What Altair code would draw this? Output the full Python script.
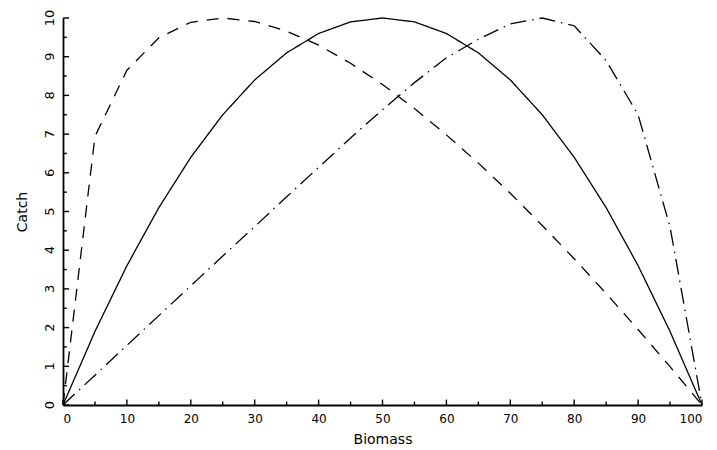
import altair as alt
import pandas as pd

biomass = [0, 5, 10, 15, 20, 25, 30, 35, 40, 45, 50, 55, 60, 65, 70, 75, 80, 85, 90, 95, 100]
catch_solid = [0, 1.9, 3.6, 5.1, 6.4, 7.5, 8.4, 9.1, 9.6, 9.9, 10.0, 9.9, 9.6, 9.1, 8.4, 7.5, 6.4, 5.1, 3.6, 1.9, 0]
catch_dashed = [0, 6.94, 8.65, 9.49, 9.89, 10.0, 9.91, 9.66, 9.30, 8.83, 8.28, 7.66, 6.98, 6.25, 5.47, 4.64, 3.78, 2.88, 1.95, 0.99, 0]
catch_dashdot = [0, 0.77, 1.54, 2.31, 3.08, 3.85, 4.61, 5.38, 6.14, 6.90, 7.63, 8.33, 8.97, 9.45, 9.85, 10.0, 9.8, 8.9, 7.5, 4.6, 0]

series_names = ["solid", "dashed", "dashdot"]

x_major = [0, 10, 20, 30, 40, 50, 60, 70, 80, 90, 100]
x_minor = [5, 15, 25, 35, 45, 55, 65, 75, 85, 95]
y_major = [0, 1, 2, 3, 4, 5, 6, 7, 8, 9, 10]
y_minor = [0.5, 1.5, 2.5, 3.5, 4.5, 5.5, 6.5, 7.5, 8.5, 9.5]
y_labels = ["0", "1", "2", "3", "4", "5", "6", "7", "8", "9", "10"]

rows = []
for name, vals in zip(series_names, [catch_solid, catch_dashed, catch_dashdot]):
    for b, c in zip(biomass, vals):
        rows.append({"Biomass": b, "Catch": c, "series": name})
df = pd.DataFrame(rows)

xscale = alt.Scale(domain=[0, 100], nice=False, zero=False)
yscale = alt.Scale(domain=[0, 10], nice=False, zero=False)

FONT = "DejaVu Sans"

xaxis = alt.Axis(values=x_major, title="Biomass", ticks=False, grid=False,
                 domainColor="black", domainWidth=1.8, labelColor="black",
                 labelFont=FONT, labelFontSize=12, labelPadding=8,
                 titleFont=FONT, titleFontSize=14, titleFontWeight="normal",
                 titleColor="black", titlePadding=8)
yaxis = alt.Axis(values=y_major, title="Catch", ticks=False, grid=False, labels=False,
                 domainColor="black", domainWidth=1.8,
                 titleFont=FONT, titleFontSize=14, titleFontWeight="normal",
                 titleColor="black", titlePadding=34)

lines = alt.Chart(df).mark_line(color="black", strokeWidth=1.3).encode(
    x=alt.X("Biomass:Q", scale=xscale, axis=xaxis),
    y=alt.Y("Catch:Q", scale=yscale, axis=yaxis),
    strokeDash=alt.StrokeDash("series:N",
                              scale=alt.Scale(domain=series_names,
                                              range=[[1, 0], [12, 9], [16, 6, 1.5, 6]]),
                              legend=None),
    detail="series:N",
)

def xticks(vals, length):
    d = pd.DataFrame({"v": vals, "y0": [0.0] * len(vals), "y1": [length] * len(vals)})
    return alt.Chart(d).mark_rule(color="black", strokeWidth=1.4).encode(
        x=alt.X("v:Q", scale=xscale, axis=None),
        y=alt.Y("y0:Q", scale=yscale, axis=None),
        y2="y1:Q")

def yticks(vals, length):
    d = pd.DataFrame({"v": vals, "x0": [0.0] * len(vals), "x1": [length] * len(vals)})
    return alt.Chart(d).mark_rule(color="black", strokeWidth=1.4).encode(
        y=alt.Y("v:Q", scale=yscale, axis=None),
        x=alt.X("x0:Q", scale=xscale, axis=None),
        x2="x1:Q")

ylab_df = pd.DataFrame({"v": y_major, "lab": y_labels, "x0": [0.0] * len(y_major)})
ylabels = alt.Chart(ylab_df).mark_text(
    angle=270, align="center", baseline="middle", xOffset=-13,
    font=FONT, fontSize=13, color="black").encode(
    y=alt.Y("v:Q", scale=yscale, axis=None),
    x=alt.X("x0:Q", scale=xscale, axis=None),
    text="lab:N")

chart = alt.layer(
    lines,
    xticks(x_major, 0.14), xticks(x_minor, 0.09),
    yticks(y_major, 0.95), yticks(y_minor, 0.6),
    ylabels,
).resolve_axis(x="independent", y="independent").properties(
    width=639, height=387,
    autosize=alt.AutoSizeParams(type="none"),
    padding={"left": 63, "top": 18, "right": 15, "bottom": 45},
).configure_view(stroke=None)

chart.save("out.html", embed_options={"renderer": "svg", "actions": False})
